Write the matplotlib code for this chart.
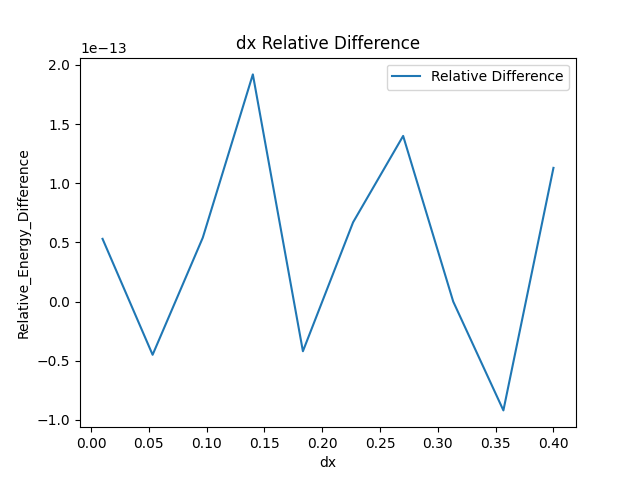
import matplotlib
matplotlib.use("Agg")
import matplotlib.pyplot as plt

dx = [0.01, 0.0533, 0.0967, 0.14, 0.1833, 0.2267, 0.27, 0.3133, 0.3567, 0.4]
rel_diff = [0.53e-13, -0.45e-13, 0.54e-13, 1.92e-13, -0.42e-13, 0.67e-13, 1.40e-13, 0.0, -0.92e-13, 1.13e-13]

fig, ax = plt.subplots(figsize=(6.4, 4.8), dpi=100)
ax.plot(dx, rel_diff, label="Relative Difference")
ax.set_title("dx Relative Difference")
ax.set_xlabel("dx")
ax.set_ylabel("Relative_Energy_Difference")
ax.legend()
fig.savefig("out.png")
